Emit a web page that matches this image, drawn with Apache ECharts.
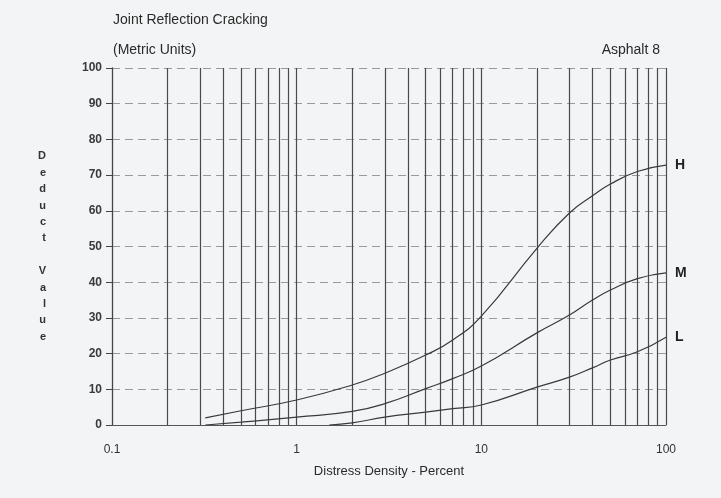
<!DOCTYPE html>
<html><head><meta charset="utf-8">
<script src="https://cdn.jsdelivr.net/npm/echarts@6/dist/echarts.min.js"></script>
<style>html,body{margin:0;padding:0;background:#f3f4f6}#c{width:721px;height:498px}</style>
</head><body><div id="c"></div>
<script>
const seriesNames = ['H', 'M', 'L'];
const densityH = [0.32, 0.5, 1, 2, 3, 5, 7, 10, 20, 30, 40, 50, 70, 100];
const deductH  = [2, 4, 7, 11.2, 14.5, 19.6, 23.8, 30.5, 49.5, 59.4, 64.2, 67.5, 71, 72.8];
const densityM = [0.32, 0.5, 1, 2, 3, 5, 7, 10, 20, 30, 40, 50, 70, 100];
const deductM  = [0, 0.8, 2.2, 3.8, 6, 10.2, 13, 16.5, 25.8, 30.8, 35, 37.8, 41, 42.6];
const densityL = [1.5, 2, 3, 5, 7, 10, 20, 30, 40, 50, 70, 100];
const deductL  = [0, 0.6, 2.2, 3.6, 4.6, 5.6, 10.6, 13.4, 16, 18.2, 20.5, 24.6];
const verticalLines = [0.2,0.3,0.4,0.5,0.6,0.7,0.8,0.9,1,2,3,4,5,6,7,8,9,10,20,30,40,50,60,70,80,90,100];

const font = '"Liberation Sans", Arial, sans-serif';
const chart = echarts.init(document.getElementById('c'));
function mk(name, xs, ys, withGrid) {
  const s = {
    name: name, type: 'line', smooth: 0.5, symbol: 'none',
    data: xs.map((x, i) => [x, ys[i]]),
    lineStyle: { color: '#3a3a3a', width: 1.2 },
    endLabel: { show: true, formatter: '{a}', distance: 9, color: '#222', fontSize: 14, fontWeight: 'bold', fontFamily: font },
    z: 5
  };
  if (withGrid) {
    s.markLine = {
      silent: true, symbol: 'none', label: { show: false },
      lineStyle: { color: '#4a4a4a', width: 1.2, type: 'solid' },
      data: verticalLines.map(v => ({ xAxis: v }))
    };
  }
  return s;
}
chart.setOption({
  backgroundColor: '#f3f4f6',
  animation: false,
  title: [
    { text: 'Joint Reflection Cracking', left: 108, top: 8, textStyle: { fontFamily: font, fontSize: 14, fontWeight: 'normal', color: '#2a2a2a' } },
    { text: '(Metric Units)', left: 108, top: 38, textStyle: { fontFamily: font, fontSize: 14, fontWeight: 'normal', color: '#2a2a2a' } },
    { text: 'Asphalt 8', right: 56, top: 38, textStyle: { fontFamily: font, fontSize: 14, fontWeight: 'normal', color: '#2a2a2a' } }
  ],
  grid: { left: 112, right: 55, top: 68, bottom: 73 },
  xAxis: {
    type: 'log', logBase: 10, min: 0.1, max: 100,
    name: 'Distress Density - Percent', nameLocation: 'middle', nameGap: 40,
    nameTextStyle: { fontFamily: font, fontSize: 13, color: '#2a2a2a' },
    axisLine: { show: true, lineStyle: { color: '#555', width: 1 } },
    axisTick: { show: false },
    splitLine: { show: false },
    axisLabel: { fontFamily: font, fontSize: 12, color: '#333', margin: 19 }
  },
  yAxis: {
    type: 'value', min: 0, max: 100, interval: 10,
    name: 'D\ne\nd\nu\nc\nt\n\nV\na\nl\nu\ne', nameLocation: 'middle', nameRotate: 0, nameGap: 66,
    nameTextStyle: { fontFamily: font, fontSize: 11, fontWeight: 'bold', color: '#333', lineHeight: 16.4 },
    axisLine: { show: true, lineStyle: { color: '#444', width: 1.3 } },
    axisTick: { show: true, length: 6, lineStyle: { color: '#444' } },
    splitLine: { show: true, lineStyle: { color: '#9a9a9a', width: 1, type: [8, 5] } },
    axisLabel: { fontFamily: font, fontSize: 12, fontWeight: 'bold', color: '#3a3a3a', margin: 10 }
  },
  series: [
    mk(seriesNames[0], densityH, deductH, true),
    mk(seriesNames[1], densityM, deductM, false),
    mk(seriesNames[2], densityL, deductL, false)
  ]
});
</script></body></html>
